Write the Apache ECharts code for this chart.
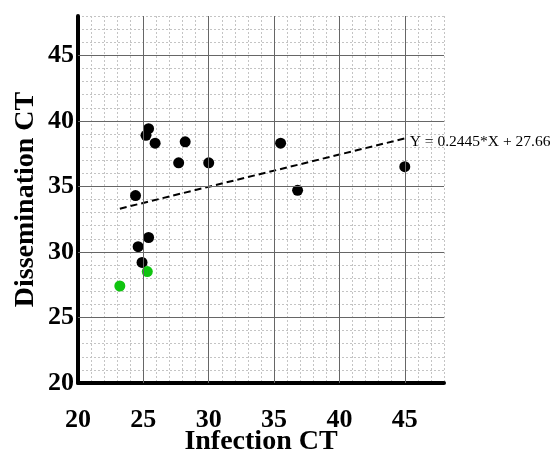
<!DOCTYPE html>
<html>
<head>
<meta charset="utf-8">
<script src="https://cdn.jsdelivr.net/npm/echarts@6/dist/echarts.min.js"></script>
<style>
html,body{margin:0;padding:0;background:#fff;}
#chart{width:553px;height:455px;}
</style>
</head>
<body>
<div id="chart"></div>
<script>
// Data
var blackPoints = [
  [24.4, 34.3], [25.4, 39.4], [25.2, 38.9], [25.9, 38.3], [27.7, 36.8],
  [28.2, 38.4], [30.0, 36.8], [35.5, 38.3], [36.8, 34.7], [45.0, 36.5],
  [25.4, 31.1], [24.6, 30.4], [24.9, 29.2]
];
var greenPoints = [[25.3, 28.5], [23.2, 27.4]];
var fitLine = [[23.2, 33.3], [45.0, 38.66]];
var fitLabel = 'Y = 0.2445*X + 27.66';
var majorTicks = [20, 25, 30, 35, 40, 45];
var axisMin = 20, axisMax = 48;
var xTitle = 'Infection CT';
var yTitle = 'Dissemination CT';

var serif = 'Liberation Serif';
var majorX = majorTicks.filter(function(v){return v > axisMin;}).map(function(v){return {xAxis: v};});
var majorY = majorTicks.filter(function(v){return v > axisMin;}).map(function(v){return {yAxis: v};});

function labelFmt(v){ return majorTicks.indexOf(v) >= 0 ? String(v) : ''; }

var axisCommon = {
  type: 'value', min: axisMin, max: axisMax, interval: 1,
  axisLine: {show: true, onZero: false, lineStyle: {color: '#000', width: 4}},
  axisTick: {show: false},
  splitLine: {show: true, lineStyle: {color: '#c4c4c4', type: [2, 2], width: 1}},
  nameLocation: 'middle',
  nameMoveOverlap: false,
  nameTextStyle: {fontFamily: serif, fontWeight: 'bold', fontSize: 28, color: '#000'}
};

var chart = echarts.init(document.getElementById('chart'));
chart.setOption({
  animation: false,
  backgroundColor: '#fff',
  grid: {left: 78, right: 109, top: 16, bottom: 72, containLabel: false, outerBoundsMode: 'none'},
  xAxis: Object.assign({}, axisCommon, {
    name: xTitle, nameGap: 45,
    axisLabel: {formatter: labelFmt, fontFamily: serif, fontWeight: 'bold', fontSize: 26, color: '#000', margin: 24, interval: 0, showMaxLabel: false}
  }),
  yAxis: Object.assign({}, axisCommon, {
    name: yTitle, nameGap: 38,
    axisLabel: {formatter: labelFmt, fontFamily: serif, fontWeight: 'bold', fontSize: 26, color: '#000', margin: 4, interval: 0, showMaxLabel: false}
  }),
  series: [
    {
      type: 'line', data: [], silent: true,
      markLine: {
        silent: true, symbol: 'none', label: {show: false},
        lineStyle: {color: '#666', type: 'solid', width: 1},
        data: majorX.concat(majorY)
      }
    },
    {
      type: 'line', data: fitLine, showSymbol: false, silent: true,
      lineStyle: {color: '#000', type: [7, 4], width: 2},
      endLabel: {show: true, formatter: fitLabel, fontFamily: serif, fontSize: 15.5, color: '#000', distance: 5, offset: [0, 4]}
    },
    {
      type: 'scatter', data: blackPoints, symbolSize: 11,
      itemStyle: {color: '#000', opacity: 1}
    },
    {
      type: 'scatter', data: greenPoints, symbolSize: 11,
      itemStyle: {color: '#10c410', opacity: 1}
    }
  ]
});
</script>
</body>
</html>
